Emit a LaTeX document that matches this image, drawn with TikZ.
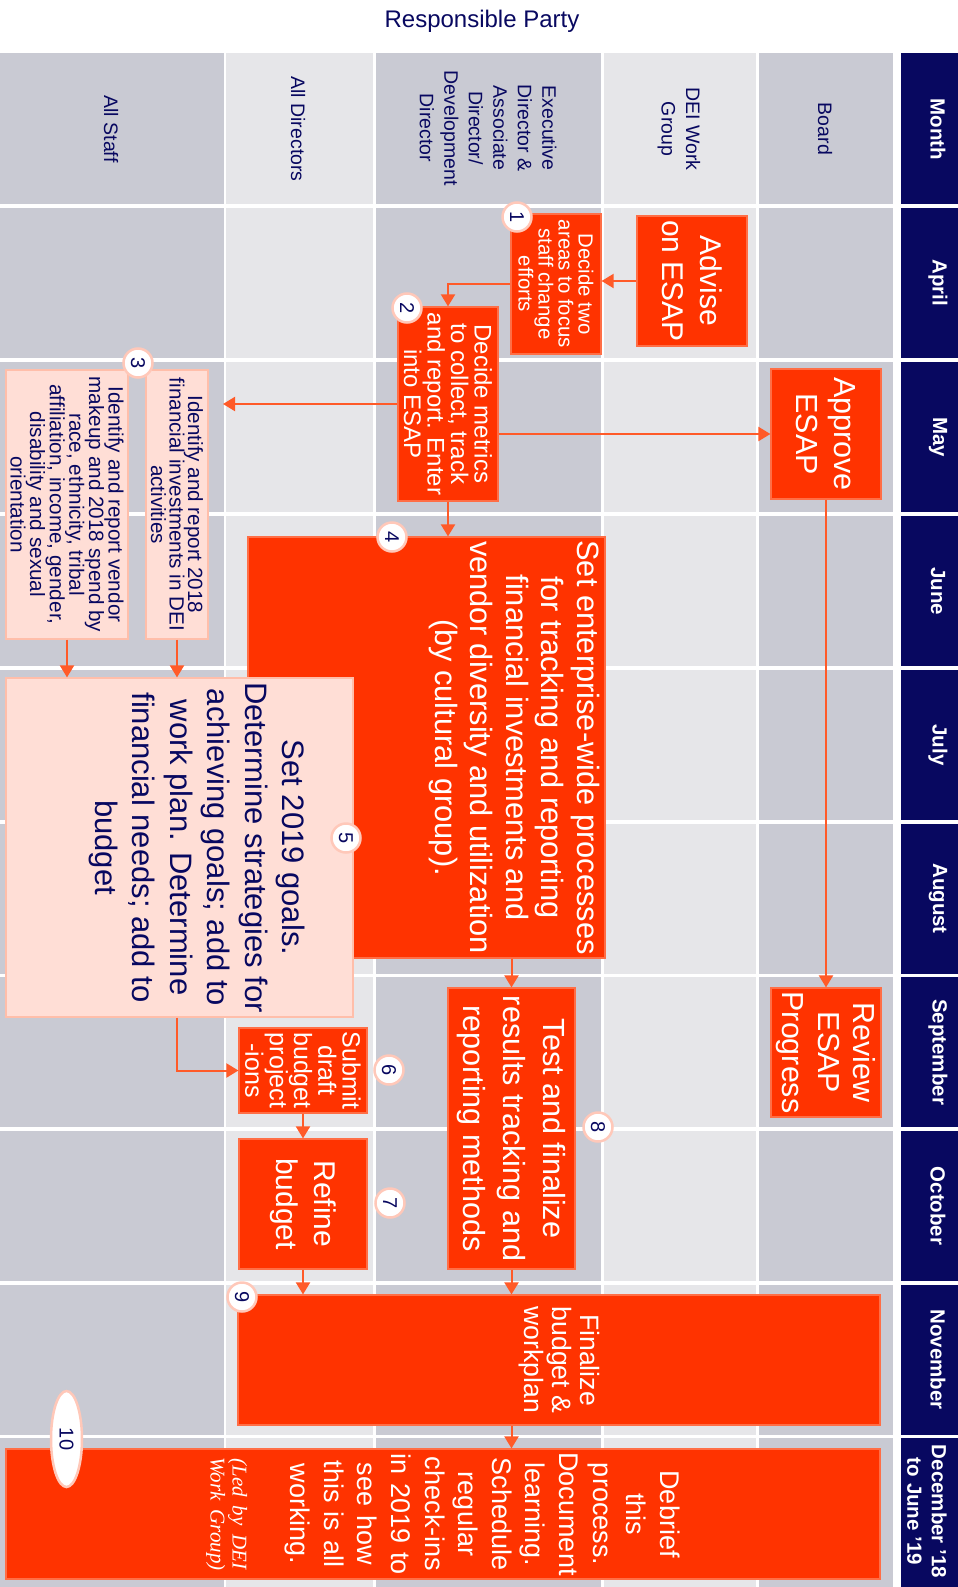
\documentclass[tikz,border=0pt]{standalone}
\usepackage{fontspec}
\setmainfont{Liberation Sans}
\newfontfamily\serifit{Liberation Serif}
\usetikzlibrary{arrows.meta,shapes.geometric}
\lineskiplimit=-100pt
\definecolor{navyc}{RGB}{8,8,96}
\definecolor{dgray}{RGB}{201,202,211}
\definecolor{lgray}{RGB}{230,230,233}
\definecolor{ored}{RGB}{255,51,0}
\definecolor{oborder}{RGB}{255,110,70}
\definecolor{pinkf}{RGB}{255,222,214}
\definecolor{pborder}{RGB}{255,190,170}
\definecolor{arrc}{RGB}{255,90,40}
\definecolor{ringc}{RGB}{255,200,185}
\tikzset{
  obox/.style={draw=oborder, fill=ored, line width=1.2pt, text=white, rotate=-90, inner sep=0pt, align=center},
  pbox/.style={draw=pborder, fill=pinkf, line width=1.2pt, text=navyc, rotate=-90, inner sep=0pt, align=center},
  numc/.style={circle, draw=ringc, fill=white, line width=2.5pt, minimum size=29pt, inner sep=0pt, text=navyc, font=\fontsize{20}{20}\selectfont, rotate=-90},
  numell/.style={ellipse, draw=ringc, fill=white, line width=2.5pt, minimum width=96pt, minimum height=31pt, inner sep=0pt, text=navyc, font=\fontsize{20}{20}\selectfont, rotate=-90},
  conn/.style={draw=arrc, line width=2pt, -{Triangle[length=12pt,width=14pt]}},
  hdr/.style={text=navyc, rotate=-90, align=center, inner sep=0pt, font=\fontsize{19.5}{24.5}\selectfont},
  mon/.style={text=white, rotate=-90, align=center, inner sep=0pt, font=\bfseries\fontsize{20.5}{24.5}\selectfont},
}
\begin{document}
\begin{tikzpicture}[x=1pt,y=-1pt]
\useasboundingbox (0,0) rectangle (958,1587);
\fill[white] (0,0) rectangle (958,1587);
% grid
\fill[dgray] (0,53) rectangle (224,1587);
\fill[lgray] (226,53) rectangle (373,1587);
\fill[dgray] (375.5,53) rectangle (601,1587);
\fill[lgray] (604,53) rectangle (755.5,1587);
\fill[dgray] (758.5,53) rectangle (893,1587);
\fill[navyc] (901,53) rectangle (957.5,1587);
\foreach \g in {206,360,514,668,822,975.5,1129,1283,1436.5}
  \draw[white, line width=3.5pt] (0,\g) -- (958,\g);
% title
\node[text=navyc, font=\fontsize{24}{24}\selectfont] (title) at (482,21) {Responsible Party};
% column headers
\node[hdr] (hstaff) at (111,129) {All Staff};
\node[hdr] (hdir) at (298,129) {All Directors};
\node[hdr] (hexec) at (488,128) {Executive\\Director \&\\Associate\\Director/\\Development\\Director};
\node[hdr] (hdei) at (679,129) {DEI Work\\Group};
\node[hdr] (hboard) at (825,129) {Board};
% months
\foreach \m/\y [count=\i] in {Month/129.5, April/283, May/437, June/591, July/745, August/898.5, September/1052, October/1206, November/1359.5}
  \node[mon] (mon\i) at (938,\y) {\m};
\node[mon] (mon10) at (927,1511.5) {December ’18\\to June ’19};
% boxes
\node[obox, minimum width=130pt, minimum height=110pt, font=\fontsize{30}{38}\selectfont] (adv) at (692,281) {Advise\\on ESAP};
\node[obox, minimum width=140pt, minimum height=90pt, font=\fontsize{20.4}{20}\selectfont] (b1) at (556,284) {Decide two\\areas to focus\\staff change\\efforts};
\node[obox, minimum width=194pt, minimum height=100pt, font=\fontsize{24}{23.5}\selectfont] (b2) at (448,404) {Decide metrics\\to collect, track\\and report. Enter\\into ESAP};
\node[obox, minimum width=130pt, minimum height=110pt, font=\fontsize{30.5}{38}\selectfont] (ap) at (826,434) {Approve\\ESAP};
\node[pbox, minimum width=269pt, minimum height=122pt, font=\fontsize{20.7}{19.6}\selectfont] (b3a) at (67,504.5) {Identify and report vendor\\makeup and 2018 spend by\\race, ethnicity, tribal\\affiliation, income, gender,\\disability and sexual\\orientation};
\node[pbox, minimum width=269pt, minimum height=62pt, font=\fontsize{20.6}{18.5}\selectfont] (b3b) at (177,504.5) {Identify and report 2018\\financial investments in DEI\\activities};
\node[obox, font=\fontsize{30.8}{35.5}\selectfont] (b4) at (426.5,747.5) {\parbox[c][357pt][c]{421pt}{\centering Set enterprise-wide processes\\for tracking and reporting\\financial investments and\\vendor diversity and utilization\\(by cultural group).\par\vspace{175pt}}};
\node[pbox, font=\fontsize{31}{37.4}\selectfont] (b5) at (179.5,847.5) {\parbox[c][347pt][c]{339pt}{\centering Set 2019 goals.\\Determine strategies for\\achieving goals; add to\\work plan. Determine\\financial needs; add to\\budget\par\vspace{35pt}}};
\node[obox, minimum width=85pt, minimum height=128pt, font=\fontsize{25}{24.3}\selectfont] (b6) at (303,1070.5) {Submit\\draft\\budget\\project\\-ions};
\node[obox, minimum width=130pt, minimum height=128pt, font=\fontsize{30}{38}\selectfont] (b7) at (303,1204) {Refine\\budget};
\node[obox, minimum width=281pt, minimum height=127pt, font=\fontsize{30.6}{39.7}\selectfont] (b8) at (511.5,1128.5) {Test and finalize\\results tracking and\\reporting methods};
\node[obox, minimum width=129pt, minimum height=110pt, font=\fontsize{30.4}{35.8}\selectfont] (rv) at (826,1052.5) {Review\\ESAP\\Progress};
\node[obox, minimum width=130pt, minimum height=642pt, font=\fontsize{26.6}{28}\selectfont] (b9) at (559,1360) {Finalize\\budget \&\\workplan};
\node[obox, minimum width=130pt, minimum height=874pt, text width=130pt, font=\fontsize{27}{33.6}\selectfont] (b10) at (443,1514) {Debrief\\this\\process.\\Document\\learning.\\Schedule\\regular\\check-ins\\in 2019 to\\see how\\this is all\\working.\par\vspace{36pt}{\serifit\itshape\fontsize{21}{22}\selectfont (Led by DEI\\Work Group)\par}};
% connectors
\coordinate (t3) at (223,404);
\draw[conn] (adv.south) -- (adv.south -| b1.north);
\draw[conn] (b1.south) -| (b2.west);
\draw[conn] (ap.south -| b2.north) -- (ap.south);
\draw[conn] (b2.south) -- (t3);
\draw[conn] (b2.east) -- (b2.east |- b4.west);
\draw[conn] (ap.east) -- (rv.west);
\draw[conn] (b3a.east) -- (b3a.east |- b5.west);
\draw[conn] (b3b.east) -- (b3b.east |- b5.west);
\draw[conn] (b8.west |- b4.east) -- (b8.west);
\draw[conn] (b3b.east |- b5.east) |- (b6.south);
\draw[conn] (b6.east) -- (b7.west);
\draw[conn] (b7.east) -- (b7.east |- b9.west);
\draw[conn] (b8.east) -- (b8.east |- b9.west);
\draw[conn] (b8.east |- b9.east) -- (b8.east |- b10.west);
% number badges
\node[numc] (n1) at (517,217) {1};
\node[numc] (n2) at (407,308) {2};
\node[numc] (n3) at (138,363) {3};
\node[numc] (n4) at (392,537) {4};
\node[numc] (n5) at (346,838) {5};
\node[numc] (n6) at (389,1070) {6};
\node[numc] (n7) at (390,1203) {7};
\node[numc] (n8) at (598,1127) {8};
\node[numc] (n9) at (242,1297) {9};
\node[numell] (n10) at (66.5,1439) {10};
\end{tikzpicture}
\end{document}
